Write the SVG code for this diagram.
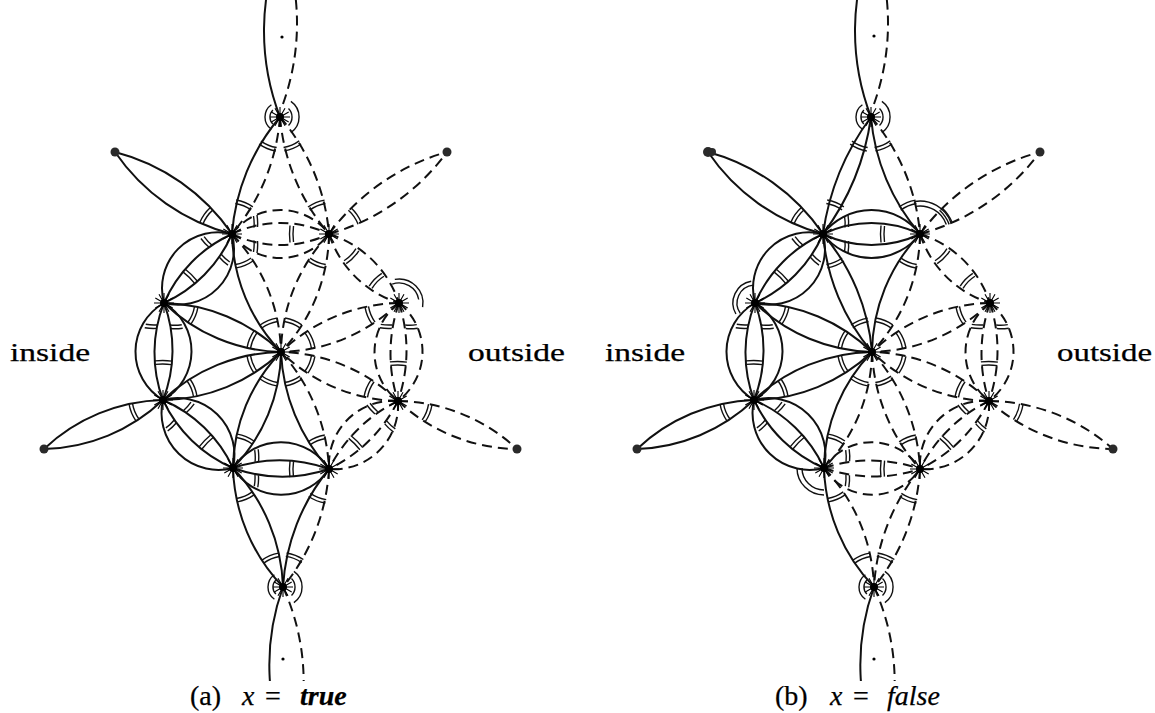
<svg xmlns="http://www.w3.org/2000/svg" xmlns:xlink="http://www.w3.org/1999/xlink" width="1155" height="713" viewBox="0 0 1155 713">
<style>
.s{fill:none;stroke:#111;stroke-width:2}
.d{fill:none;stroke:#111;stroke-width:2;stroke-dasharray:10 6}
.h{fill:none;stroke:none}
.m{fill:none;stroke:#111;stroke-width:1.4}
.o{fill:#2a2a2a}
text{font-family:"Liberation Serif","DejaVu Serif",serif;fill:#000;stroke:#000;stroke-width:0.25}
</style>
<defs>
<marker id="ms" markerUnits="userSpaceOnUse" orient="auto-start-reverse" markerWidth="100" markerHeight="100" viewBox="-50 -50 100 100" refX="0" refY="0" overflow="visible">
<path class="m" d="M-29.5,-8.5 Q-31.5,0 -29.5,8.5 M-33,-9 Q-35,0 -33,9"/>
</marker>
<marker id="mw" markerUnits="userSpaceOnUse" orient="auto-start-reverse" markerWidth="100" markerHeight="100" viewBox="-50 -50 100 100" refX="0" refY="0" overflow="visible">
<path class="m" d="M-21.5,-18 Q-22.5,-12 -22,-6.5 M-25,-19 Q-26,-12.5 -25.5,-7 M-21.5,18 Q-22.5,12 -22,6.5 M-25,19 Q-26,12.5 -25.5,7"/>
</marker>
<marker id="mi" markerUnits="userSpaceOnUse" orient="auto-start-reverse" markerWidth="100" markerHeight="100" viewBox="-50 -50 100 100" refX="0" refY="0" overflow="visible">
<path class="m" d="M-35.5,-8 Q-36.5,0 -35.5,8 M-39,-8.5 Q-40,0 -39,8.5"/>
</marker>
<g id="pp" class="m">
<path d="M-8.6,-12.3 A15,15 0 0 0 -8.6,12.3"/>
<path d="M-7.1,-7.1 A10,10 0 0 0 -7.1,7.1"/>
<path d="M10.9,-15.6 A19,19 0 0 1 10.9,15.6"/>
<path d="M8.5,-8.5 A12,12 0 0 1 8.5,8.5"/>
</g>
<g id="star">
<path d="M-10,0 L10,0 M0,-10 L0,10 M-8.7,-5 L8.7,5 M-8.7,5 L8.7,-5 M-5,-8.7 L5,8.7 M-5,8.7 L5,-8.7" stroke="#000" stroke-width="1.1"/>
<circle r="4" fill="#000"/>
</g>
<clipPath id="cb" clipPathUnits="userSpaceOnUse"><rect x="-700" y="0" width="2000" height="681"/></clipPath>
</defs>
<rect width="1155" height="713" fill="#fff"/>

<!-- ================= (a) ================= -->
<g id="graph-a">
<g id="edges-a">
<path class="s" d="M115,152 A203,203 0 0 1 232,234 M115,152 A203,203 0 0 0 232,234"/>
<path class="s" d="M44,449 A179,179 0 0 1 163,400 M44,449 A179,179 0 0 0 163,400"/>
<path class="s" d="M232,234 A56,56 0 0 1 164,303 M232,234 A56,56 0 0 0 164,303 M232,234 A135,135 0 0 1 164,303 M232,234 A135,135 0 0 0 164,303"/>
<path class="s" d="M164,303 A56,56 0 0 1 163,400 M164,303 A56,56 0 0 0 163,400 M164,303 A135,135 0 0 1 163,400 M164,303 A135,135 0 0 0 163,400"/>
<path class="s" d="M163,400 A57,57 0 0 1 233,468 M163,400 A57,57 0 0 0 233,468 M163,400 A137,137 0 0 1 233,468 M163,400 A137,137 0 0 0 233,468"/>
<path class="s" d="M164,303 A174,174 0 0 1 281,352 M164,303 A174,174 0 0 0 281,352"/>
<path class="s" d="M163,400 A175,175 0 0 1 281,352 M163,400 A175,175 0 0 0 281,352"/>
<path class="s" d="M233,468 A57,57 0 0 1 329,469 M233,468 A57,57 0 0 0 329,469 M233,468 A148,148 0 0 1 329,469 M233,468 A148,148 0 0 0 329,469"/>
<path class="s" d="M233,468 A180,180 0 0 1 283,587 M233,468 A180,180 0 0 0 283,587"/>
<path class="s" d="M329,469 A205,205 0 0 0 283,587"/><path class="d" d="M329,469 A205,205 0 0 1 283,587"/>
<path class="s" d="M281,352 A170,170 0 0 1 233,468 M281,352 A170,170 0 0 0 233,468"/>
<path class="s" d="M281,352 A187,187 0 0 0 329,469"/><path class="d" d="M281,352 A187,187 0 0 1 329,469"/>
<path class="s" d="M232,234 A176,176 0 0 0 281,352"/><path class="d" d="M232,234 A176,176 0 0 1 281,352"/>
<path class="s" d="M280,117 A205,205 0 0 0 232,234"/><path class="d" d="M280,117 A205,205 0 0 1 232,234"/>
<path class="d" d="M280,117 A206,206 0 0 1 329,234 M280,117 A206,206 0 0 0 329,234"/>
<path class="d" d="M232,234 A61,61 0 0 1 329,234 M232,234 A61,61 0 0 0 329,234 M232,234 A112,112 0 0 1 329,234 M232,234 A112,112 0 0 0 329,234"/>
<path class="d" d="M329,234 A221,221 0 0 1 447,152 M329,234 A221,221 0 0 0 447,152"/>
<path class="d" d="M329,234 A175,175 0 0 1 281,352 M329,234 A175,175 0 0 0 281,352"/>
<path class="d" d="M329,234 A107,107 0 0 1 399,303 M329,234 A107,107 0 0 0 399,303"/>
<path class="d" d="M399,303 A176,176 0 0 1 281,352 M399,303 A176,176 0 0 0 281,352"/>
<path class="d" d="M399,303 A62,62 0 0 1 398,401 M399,303 A62,62 0 0 0 398,401 M399,303 A154,154 0 0 1 398,401 M399,303 A154,154 0 0 0 398,401"/>
<path class="d" d="M398,401 A174,174 0 0 1 281,352 M398,401 A174,174 0 0 0 281,352"/>
<path class="d" d="M398,401 A178,178 0 0 1 517,449 M398,401 A178,178 0 0 0 517,449"/>
<path class="d" d="M398,401 A64,64 0 0 1 329,469 M398,401 A64,64 0 0 0 329,469 M398,401 A151,151 0 0 1 329,469 M398,401 A151,151 0 0 0 329,469"/>
<path class="s" d="M280,117 A239,239 0 0 1 282,-60"/><path class="d" d="M283,104 A239,239 0 0 0 282,-60"/>
<g clip-path="url(#cb)"><path class="s" d="M283,587 A229,229 0 0 0 290,760"/><path class="d" d="M283,587 A229,229 0 0 1 290,760"/></g>
</g>
<g id="marks-a" class="h">
<path d="M164,303 L281,352" marker-start="url(#ms)" marker-end="url(#ms)"/>
<path d="M163,400 L281,352" marker-start="url(#ms)" marker-end="url(#ms)"/>
<path d="M232,234 L281,352" marker-start="url(#ms)" marker-end="url(#ms)"/>
<path d="M329,234 L281,352" marker-start="url(#ms)" marker-end="url(#ms)"/>
<path d="M399,303 L281,352" marker-start="url(#ms)" marker-end="url(#ms)"/>
<path d="M398,401 L281,352" marker-start="url(#ms)" marker-end="url(#ms)"/>
<path d="M233,468 L281,352" marker-start="url(#ms)" marker-end="url(#ms)"/>
<path d="M329,469 L281,352" marker-start="url(#ms)" marker-end="url(#ms)"/>
<path d="M280,117 L232,234" marker-start="url(#ms)" marker-end="url(#ms)"/>
<path d="M280,117 L329,234" marker-start="url(#ms)" marker-end="url(#ms)"/>
<path d="M233,468 L283,587" marker-start="url(#ms)" marker-end="url(#ms)"/>
<path d="M329,469 L283,587" marker-start="url(#ms)" marker-end="url(#ms)"/>
<path d="M329,234 L399,303" marker-start="url(#ms)" marker-end="url(#ms)"/>
<path d="M232,234 L115,152" marker-start="url(#ms)"/>
<path d="M163,400 L44,449" marker-start="url(#ms)"/>
<path d="M329,234 L447,152" marker-start="url(#ms)"/>
<path d="M398,401 L517,449" marker-start="url(#ms)"/>
<path d="M232,234 L164,303" marker-start="url(#mw)" marker-end="url(#mi)"/>
<path d="M164,303 L163,400" marker-start="url(#mw)" marker-end="url(#mi)"/>
<path d="M163,400 L233,468" marker-start="url(#mw)" marker-end="url(#mi)"/>
<path d="M233,468 L329,469" marker-start="url(#mw)" marker-end="url(#mi)"/>
<path d="M232,234 L329,234" marker-start="url(#mw)" marker-end="url(#mi)"/>
<path d="M399,303 L398,401" marker-start="url(#mw)" marker-end="url(#mi)"/>
<path d="M398,401 L329,469" marker-start="url(#mw)" marker-end="url(#mi)"/>
<use href="#pp" x="280" y="117"/>
<use href="#pp" x="283" y="587"/>
<path class="m" d="M392.2,284.2 A20,20 0 0 1 418.7,299.5 M394.8,279.4 A24,24 0 0 1 422.6,307.2"/>
</g>
<g id="a-T"><use href="#star" x="280" y="117"/></g>
<g id="a-UL"><use href="#star" x="232" y="234"/></g>
<g id="a-UR"><use href="#star" x="329" y="234"/></g>
<g id="a-L1"><use href="#star" x="164" y="303"/></g>
<g id="a-R1"><use href="#star" x="399" y="303"/></g>
<g id="a-C"><use href="#star" x="281" y="352"/></g>
<g id="a-L2"><use href="#star" x="163" y="400"/></g>
<g id="a-R2"><use href="#star" x="398" y="401"/></g>
<g id="a-LL"><use href="#star" x="233" y="468"/></g>
<g id="a-LR"><use href="#star" x="329" y="469"/></g>
<g id="a-B"><use href="#star" x="283" y="587"/></g>
<g id="a-TLo"><circle class="o" cx="115" cy="152" r="4.5"/></g>
<g id="a-TRo"><circle class="o" cx="447" cy="152" r="4.5"/></g>
<g id="a-BLo"><circle class="o" cx="44" cy="449" r="4.5"/></g>
<g id="a-BRo"><circle class="o" cx="517" cy="449" r="4.5"/></g>
<g id="a-dots"><circle cx="282" cy="37" r="1.6"/><circle cx="283" cy="659" r="1.6"/></g>
</g>

<!-- ================= (b) ================= -->
<g id="graph-b" transform="translate(591,0)">
<g id="edges-b">
<path class="s" d="M117,152 A203,203 0 0 1 232,234 M117,152 A203,203 0 0 0 232,234"/>
<path class="s" d="M46,449 A179,179 0 0 1 163,400 M46,449 A179,179 0 0 0 163,400"/>
<path class="s" d="M232,234 A56,56 0 0 1 164,303 M232,234 A56,56 0 0 0 164,303 M232,234 A135,135 0 0 1 164,303 M232,234 A135,135 0 0 0 164,303"/>
<path class="s" d="M164,303 A56,56 0 0 1 163,400 M164,303 A56,56 0 0 0 163,400 M164,303 A135,135 0 0 1 163,400 M164,303 A135,135 0 0 0 163,400"/>
<path class="s" d="M163,400 A57,57 0 0 1 233,468 M163,400 A57,57 0 0 0 233,468 M163,400 A137,137 0 0 1 233,468 M163,400 A137,137 0 0 0 233,468"/>
<path class="s" d="M164,303 A174,174 0 0 1 281,352 M164,303 A174,174 0 0 0 281,352"/>
<path class="s" d="M163,400 A175,175 0 0 1 281,352 M163,400 A175,175 0 0 0 281,352"/>
<path class="d" d="M233,468 A57,57 0 0 1 329,469 M233,468 A57,57 0 0 0 329,469 M233,468 A148,148 0 0 1 329,469 M233,468 A148,148 0 0 0 329,469"/>
<path class="s" d="M233,468 A180,180 0 0 0 283,587"/><path class="d" d="M233,468 A180,180 0 0 1 283,587"/>
<path class="d" d="M329,469 A205,205 0 0 1 283,587 M329,469 A205,205 0 0 0 283,587"/>
<path class="s" d="M281,352 A170,170 0 0 0 233,468"/><path class="d" d="M281,352 A170,170 0 0 1 233,468"/>
<path class="d" d="M281,352 A187,187 0 0 1 329,469 M281,352 A187,187 0 0 0 329,469"/>
<path class="s" d="M232,234 A209,209 0 0 1 281,352 M232,234 A209,209 0 0 0 281,352"/>
<path class="s" d="M280,117 A254,254 0 0 1 232,234 M280,117 A254,254 0 0 0 232,234"/>
<path class="s" d="M280,117 A206,206 0 0 0 329,234"/><path class="d" d="M280,117 A206,206 0 0 1 329,234"/>
<path class="s" d="M232,234 A61,61 0 0 1 329,234 M232,234 A61,61 0 0 0 329,234 M232,234 A112,112 0 0 1 329,234 M232,234 A112,112 0 0 0 329,234"/>
<path class="d" d="M329,234 A221,221 0 0 1 449,152 M329,234 A221,221 0 0 0 449,152"/>
<path class="s" d="M329,234 A175,175 0 0 0 281,352"/><path class="d" d="M329,234 A175,175 0 0 1 281,352"/>
<path class="d" d="M329,234 A107,107 0 0 1 399,303 M329,234 A107,107 0 0 0 399,303"/>
<path class="d" d="M399,303 A176,176 0 0 1 281,352 M399,303 A176,176 0 0 0 281,352"/>
<path class="d" d="M399,303 A62,62 0 0 1 398,401 M399,303 A62,62 0 0 0 398,401 M399,303 A154,154 0 0 1 398,401 M399,303 A154,154 0 0 0 398,401"/>
<path class="d" d="M398,401 A174,174 0 0 1 281,352 M398,401 A174,174 0 0 0 281,352"/>
<path class="d" d="M398,401 A190,190 0 0 1 522,449 M398,401 A190,190 0 0 0 522,449"/>
<path class="d" d="M398,401 A64,64 0 0 1 329,469 M398,401 A64,64 0 0 0 329,469 M398,401 A151,151 0 0 1 329,469 M398,401 A151,151 0 0 0 329,469"/>
<path class="s" d="M280,117 A239,239 0 0 1 282,-60"/><path class="d" d="M283,104 A239,239 0 0 0 282,-60"/>
<g clip-path="url(#cb)"><path class="s" d="M283,587 A229,229 0 0 0 290,760"/><path class="d" d="M283,587 A229,229 0 0 1 290,760"/></g>
</g>
<g id="marks-b" class="h">
<path d="M164,303 L281,352" marker-start="url(#ms)" marker-end="url(#ms)"/>
<path d="M163,400 L281,352" marker-start="url(#ms)" marker-end="url(#ms)"/>
<path d="M232,234 L281,352" marker-start="url(#ms)" marker-end="url(#ms)"/>
<path d="M329,234 L281,352" marker-start="url(#ms)" marker-end="url(#ms)"/>
<path d="M399,303 L281,352" marker-start="url(#ms)" marker-end="url(#ms)"/>
<path d="M398,401 L281,352" marker-start="url(#ms)" marker-end="url(#ms)"/>
<path d="M233,468 L281,352" marker-start="url(#ms)" marker-end="url(#ms)"/>
<path d="M329,469 L281,352" marker-start="url(#ms)" marker-end="url(#ms)"/>
<path d="M280,117 L232,234" marker-start="url(#ms)" marker-end="url(#ms)"/>
<path d="M280,117 L329,234" marker-start="url(#ms)" marker-end="url(#ms)"/>
<path d="M233,468 L283,587" marker-start="url(#ms)" marker-end="url(#ms)"/>
<path d="M329,469 L283,587" marker-start="url(#ms)" marker-end="url(#ms)"/>
<path d="M329,234 L399,303" marker-start="url(#ms)" marker-end="url(#ms)"/>
<path d="M232,234 L117,152" marker-start="url(#ms)"/>
<path d="M163,400 L46,449" marker-start="url(#ms)"/>
<path d="M329,234 L449,152" marker-start="url(#ms)"/>
<path d="M398,401 L522,449" marker-start="url(#ms)"/>
<path d="M232,234 L164,303" marker-start="url(#mw)" marker-end="url(#mi)"/>
<path d="M164,303 L163,400" marker-start="url(#mw)" marker-end="url(#mi)"/>
<path d="M163,400 L233,468" marker-start="url(#mw)" marker-end="url(#mi)"/>
<path d="M233,468 L329,469" marker-start="url(#mw)" marker-end="url(#mi)"/>
<path d="M232,234 L329,234" marker-start="url(#mw)" marker-end="url(#mi)"/>
<path d="M399,303 L398,401" marker-start="url(#mw)" marker-end="url(#mi)"/>
<path d="M398,401 L329,469" marker-start="url(#mw)" marker-end="url(#mi)"/>
<use href="#pp" x="280" y="117"/>
<use href="#pp" x="283" y="587"/>
<path class="m" d="M160.2,281.3 A22,22 0 0 0 144.9,314 M162.4,285.1 A18,18 0 0 0 149.3,313.3"/>
<path class="m" d="M233,490 A22,22 0 0 1 211,468 M233,495 A27,27 0 0 1 206,468"/>
<path class="m" d="M324.1,206.4 A28,28 0 0 1 355.3,224.4 M323.3,201.5 A33,33 0 0 1 360,222.7"/>
</g>
<g id="b-T"><use href="#star" x="280" y="117"/></g>
<g id="b-UL"><use href="#star" x="232" y="234"/></g>
<g id="b-UR"><use href="#star" x="329" y="234"/></g>
<g id="b-L1"><use href="#star" x="164" y="303"/></g>
<g id="b-R1"><use href="#star" x="399" y="303"/></g>
<g id="b-C"><use href="#star" x="281" y="352"/></g>
<g id="b-L2"><use href="#star" x="163" y="400"/></g>
<g id="b-R2"><use href="#star" x="398" y="401"/></g>
<g id="b-LL"><use href="#star" x="233" y="468"/></g>
<g id="b-LR"><use href="#star" x="329" y="469"/></g>
<g id="b-B"><use href="#star" x="283" y="587"/></g>
<g id="b-TLo"><circle class="o" cx="117" cy="152" r="5"/><circle class="o" cx="121" cy="152" r="4"/></g>
<g id="b-TRo"><circle class="o" cx="449" cy="152" r="4.5"/></g>
<g id="b-BLo"><circle class="o" cx="46" cy="449" r="4.5"/></g>
<g id="b-BRo"><circle class="o" cx="522" cy="449" r="4.5"/></g>
<g id="b-dots"><circle cx="283" cy="36" r="1.6"/><circle cx="283" cy="659" r="1.6"/></g>
</g>

<g id="labels">
<text x="10" y="361" font-size="25" textLength="80" lengthAdjust="spacingAndGlyphs">inside</text>
<text x="468" y="361" font-size="25" textLength="97" lengthAdjust="spacingAndGlyphs">outside</text>
<text x="605" y="361" font-size="25" textLength="80" lengthAdjust="spacingAndGlyphs">inside</text>
<text x="1057" y="361" font-size="25" textLength="95" lengthAdjust="spacingAndGlyphs">outside</text>
<text y="705" font-size="28"><tspan x="190">(a) </tspan><tspan x="242" font-style="italic">x </tspan><tspan x="265">= </tspan><tspan x="300" font-style="italic" font-weight="bold">true</tspan></text>
<text y="705" font-size="28"><tspan x="775">(b) </tspan><tspan x="830" font-style="italic">x </tspan><tspan x="853">= </tspan><tspan x="887" font-style="italic">false</tspan></text>
</g>
</svg>
